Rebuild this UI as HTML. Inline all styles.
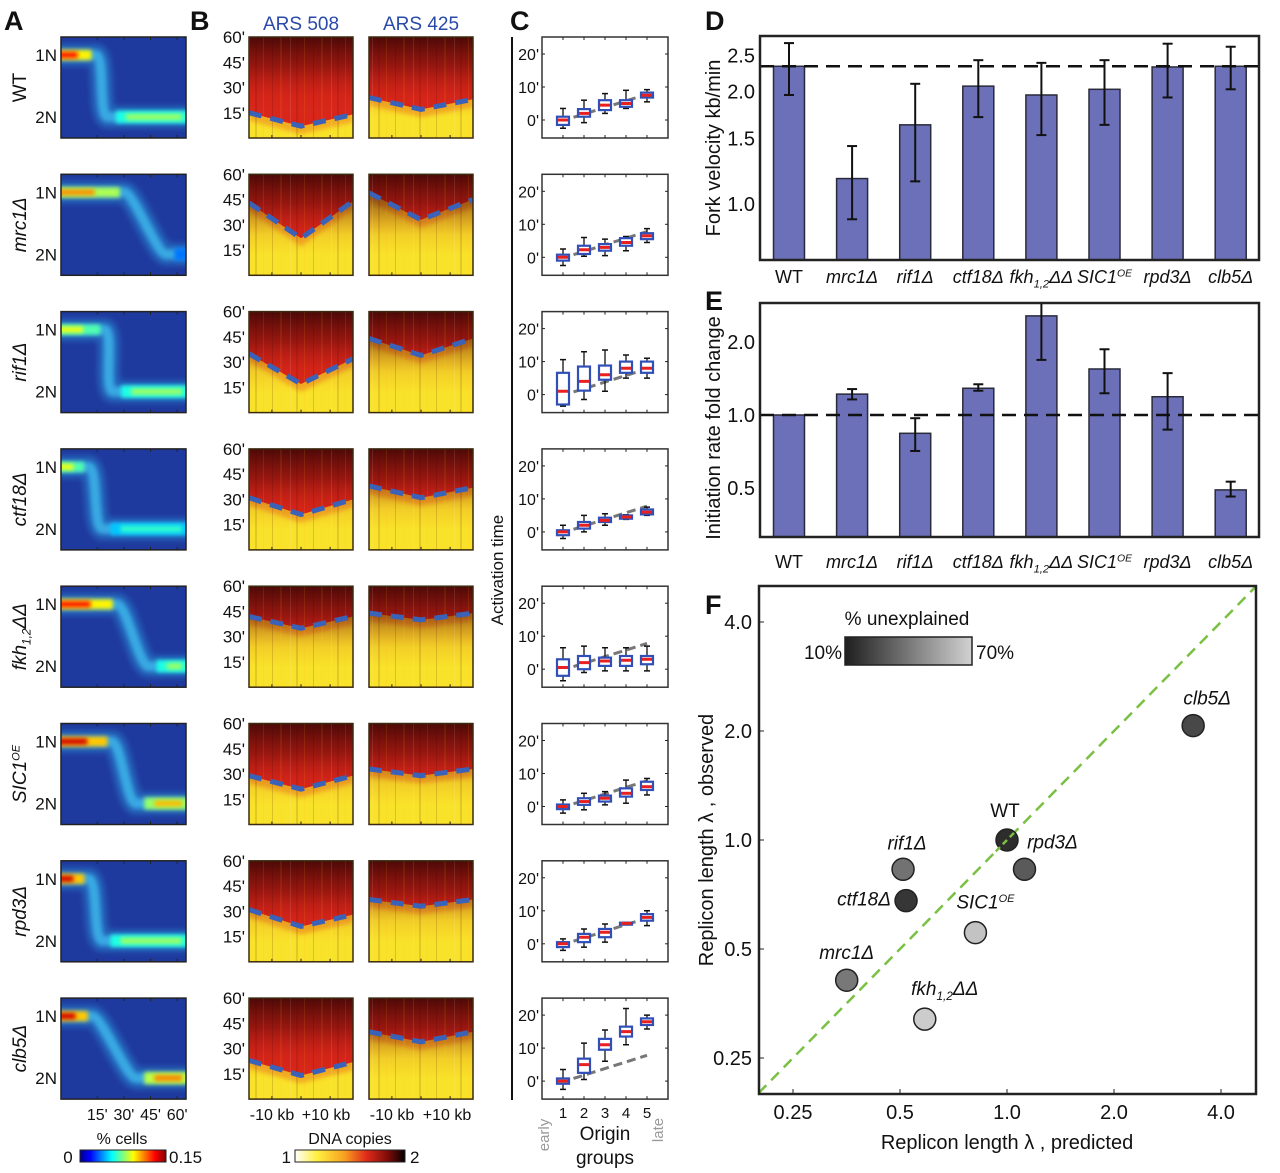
<!DOCTYPE html>
<html><head><meta charset="utf-8">
<style>
html,body{margin:0;padding:0;background:#fff;}
svg{display:block;font-family:"Liberation Sans",Arial,sans-serif;}
</style></head>
<body>
<svg id="fig" width="1280" height="1173" viewBox="0 0 1280 1173" xmlns="http://www.w3.org/2000/svg">
<defs>
<filter id="blur3" filterUnits="userSpaceOnUse" x="0" y="0" width="1280" height="1173"><feGaussianBlur stdDeviation="3"/></filter>
<filter id="blur2" filterUnits="userSpaceOnUse" x="0" y="0" width="1280" height="1173"><feGaussianBlur stdDeviation="2"/></filter>
<linearGradient id="jetGrad" x1="0" x2="1" y1="0" y2="0">
<stop offset="0" stop-color="#00008f"/><stop offset="0.12" stop-color="#0000ff"/><stop offset="0.37" stop-color="#00ffff"/><stop offset="0.5" stop-color="#80ff80"/><stop offset="0.62" stop-color="#ffff00"/><stop offset="0.87" stop-color="#ff0000"/><stop offset="1" stop-color="#800000"/>
</linearGradient>
<linearGradient id="hotGrad" x1="0" x2="1" y1="0" y2="0">
<stop offset="0" stop-color="#ffffff"/><stop offset="0.2" stop-color="#fff040"/><stop offset="0.45" stop-color="#f8a020"/><stop offset="0.65" stop-color="#e02a18"/><stop offset="0.85" stop-color="#7a0c08"/><stop offset="1" stop-color="#000000"/>
</linearGradient>
<linearGradient id="greyGrad" x1="0" x2="1" y1="0" y2="0">
<stop offset="0" stop-color="#1e1e1e"/><stop offset="1" stop-color="#d2d2d2"/>
</linearGradient>
<linearGradient id="darkTop" x1="0" x2="0" y1="0" y2="1">
<stop offset="0" stop-color="#2a0202" stop-opacity="0.8"/><stop offset="0.3" stop-color="#5a0806" stop-opacity="0.5"/><stop offset="0.6" stop-color="#b01810" stop-opacity="0.1"/><stop offset="0.8" stop-color="#d42010" stop-opacity="0"/>
</linearGradient>
<pattern id="streaks" width="41" height="10" patternUnits="userSpaceOnUse">
<rect x="3" y="0" width="1" height="10" fill="#ffffff" opacity="0.1"/>
<rect x="9" y="0" width="2" height="10" fill="#400000" opacity="0.12"/>
<rect x="17" y="0" width="1" height="10" fill="#ffb000" opacity="0.12"/>
<rect x="26" y="0" width="1" height="10" fill="#300000" opacity="0.15"/>
<rect x="34" y="0" width="2" height="10" fill="#ffd000" opacity="0.08"/>
</pattern>
</defs>
</svg>
<script>
// ---------- DATA ----------
const strains = ['WT','mrc1','rif1','ctf18','fkh','SIC1','rpd3','clb5'];
// Panel A: 1N phase end and 2N phase start (minutes), peak intensities (% cells, 0-0.15)
const a1End   = [14, 30, 19, 10, 26, 23, 10, 12];
const a2Start = [21, 54, 24, 18, 44, 37, 18, 37];
const a1Peak  = [0.14, 0.12, 0.10, 0.10, 0.14, 0.15, 0.15, 0.15];
const a2Peak  = [0.10, 0.06, 0.10, 0.08, 0.10, 0.13, 0.10, 0.14];
// Panel B: activation time profile (minutes) at left edge, origin, right edge
const b508Left   = [15, 43, 35, 31, 42, 29, 31, 23];
const b508Center = [7, 22, 17, 21, 35, 21, 21, 14];
const b508Right  = [14, 44, 32, 30, 42, 29, 28, 22];
const b425Left   = [24, 49, 44, 38, 44, 33, 37, 40];
const b425Center = [17, 33, 34, 31, 40, 29, 33, 34];
const b425Right  = [23, 45, 44, 37, 44, 33, 37, 40];
// Panel C: boxplot stats per strain per origin group (minutes)
const cMed = [[0,2,4.5,5,7.5],[0,2.3,3,4.5,6.5],[1,4,6,8,8],[0,2,3.5,4.5,6],[0.5,2,2.5,2.7,3],[0,1.5,2.5,4,6],[0,2,3.5,6.2,8],[0,5,11,15,18]];
const cQ1  = [[-1.5,1,3,4,6.8],[-1,1,2,3.5,5.5],[-3,1.2,4.5,6.6,6.6],[-1,1,3,4,5.3],[-2,0,1,1,1.5],[-0.8,0.5,1.5,3,5],[-1,0.5,2,6,7],[-0.8,2.5,9.5,13.5,17]];
const cQ3  = [[1,3.3,6,6,8.3],[0.8,3.5,4,5.8,7.3],[6.6,8.5,8.8,10,10],[0.5,3,4.3,5,6.8],[3,4,3.5,4,4],[0.6,2.5,3.3,5.5,7.5],[0.5,3,4.5,6.4,9],[0.8,6.8,12.8,16.5,19]];
const cLo  = [[-2.5,-0.8,2,3.5,5.5],[-2.5,0.3,0.5,2,4.5],[-3.5,-1.5,1,5,5],[-2,0,2,3.8,5],[-3.5,-1,-0.5,-0.5,-0.5],[-2,-1,0.5,1,3.5],[-2,-1,0.5,5.8,5.5],[-2.5,0.5,6,11,15.8]];
const cHi  = [[3.5,6,8,9,9.2],[2.5,6,5.5,6.3,8.7],[10.6,13,13.5,12,11],[2,5,5.5,5.2,7.5],[6.5,7,6.5,6.5,7],[2,4,4.5,8,8.5],[1.5,4.5,6,6.5,10],[3.5,11.5,15.5,22,20]];
const cTrendGroups = [1.5, 5];
const cTrendVals   = [0.8, 7.8];
// Panel D: fork velocity (kb/min)
const dVal  = [2.34, 1.17, 1.63, 2.07, 1.96, 2.03, 2.33, 2.34];
const dLo   = [1.96, 0.91, 1.15, 1.71, 1.53, 1.63, 1.93, 2.03];
const dHi   = [2.70, 1.43, 2.10, 2.43, 2.39, 2.43, 2.69, 2.64];
const dRef  = 2.34;
const dTicks = [1.0, 1.5, 2.0, 2.5];
// Panel E: initiation rate fold change
const eVal  = [1.0, 1.22, 0.84, 1.29, 2.57, 1.55, 1.19, 0.49];
const eLo   = [1.0, 1.16, 0.71, 1.26, 1.69, 1.23, 0.87, 0.46];
const eHi   = [1.0, 1.28, 0.97, 1.34, 2.95, 1.87, 1.49, 0.53];
const eRef  = 1.0;
const eTicks = [0.5, 1.0, 2.0];
// Panel F: replicon length predicted vs observed, % unexplained
const fPred = [1.0, 0.354, 0.51, 0.52, 0.587, 0.815, 1.12, 3.34];
const fObs  = [1.0, 0.41, 0.83, 0.68, 0.32, 0.555, 0.83, 2.07];
const fUnexp= [15, 40, 38, 18, 68, 65, 30, 24];
const fTicks = [0.25, 0.5, 1.0, 2.0, 4.0];
const fTickLabels = ['0.25','0.5','1.0','2.0','4.0'];

// ---------- HELPERS ----------
const NS='http://www.w3.org/2000/svg';
const svg=document.getElementById('fig');
function mk(tag,parent){const e=document.createElementNS(NS,tag);(parent||svg).appendChild(e);return e;}
function sa(e,o){for(const k in o)e.setAttribute(k,o[k]);return e;}
function txt(str,x,y,size,anchor,parent){const t=mk('text',parent);sa(t,{x:x,y:y,'font-size':size,'text-anchor':anchor||'start',fill:'#111'});t.textContent=str;return t;}
function strainText(i,x,y,size,anchor,parent,rot){
  const t=mk('text',parent);
  sa(t,{x:x,y:y,'font-size':size,'text-anchor':anchor||'middle',fill:'#111'});
  if(rot)t.setAttribute('transform','rotate(-90 '+x+' '+y+')');
  const s=strains[i];
  if(s==='WT'){t.textContent='WT';return t;}
  t.setAttribute('font-style','italic');
  const add=(str,o)=>{const ts=mk('tspan',t);if(o)sa(ts,o);ts.textContent=str;};
  if(s==='fkh'){add('fkh');add('1,2',{dy:size*0.25,'font-size':size*0.62});add('ΔΔ',{dy:-size*0.25});}
  else if(s==='SIC1'){add('SIC1');add('OE',{dy:-size*0.35,'font-size':size*0.58});add('\u200b',{dy:size*0.35});}
  else{add(s+'Δ');}
  return t;
}
function jet(v){const c=x=>Math.round(255*Math.max(0,Math.min(1,x)));return 'rgb('+c(1.5-Math.abs(4*v-3))+','+c(1.5-Math.abs(4*v-2))+','+c(1.5-Math.abs(4*v-1))+')';}
const rowTop=k=>37+137.3*k;
const rowH=101;

// Panel letters
[['A',4,30],['B',190,30],['C',510,30],['D',705,30],['E',705,310],['F',705,614]].forEach(p=>{
  const t=txt(p[0],p[1],p[2],27,'start');t.setAttribute('font-weight','bold');
  
  
});

// ---------- PANEL A ----------
const AX0=61,AX1=186;
const aX=t=>AX0+(AX1-AX0)*(0.077+0.0142*t);
strains.forEach((s,k)=>{
  const top=rowTop(k);
  const g=mk('g');
  
  
  const cp=mk('clipPath',g);cp.id='clipA'+k;
  sa(mk('rect',cp),{x:AX0,y:top,width:AX1-AX0,height:rowH});
  sa(mk('rect',g),{x:AX0,y:top,width:AX1-AX0,height:rowH,fill:'#1f3a9e'});
  const inner=mk('g',g);inner.setAttribute('clip-path','url(#clipA'+k+')');
  const y1=top+18,y2=top+80;
  const x1=aX(a1End[k]),x2=aX(a2Start[k]);
  const path='M'+(AX0-10)+' '+y1+' L'+x1+' '+y1+' C'+(x1+10)+' '+y1+' '+(x2-10)+' '+y2+' '+x2+' '+y2+' L'+(AX1+10)+' '+y2;
  sa(mk('path',inner),{d:path,fill:'none',stroke:'#2a90d8','stroke-width':22,opacity:0.5,filter:'url(#blur3)'});
  sa(mk('path',inner),{d:path,fill:'none',stroke:'#40c0f0','stroke-width':10,opacity:0.75,filter:'url(#blur2)'});
  sa(mk('rect',inner),{x:AX0-4,y:y1-5,width:x1-AX0,height:10,fill:jet(a1Peak[k]/0.15*0.68),filter:'url(#blur2)'});
  sa(mk('rect',inner),{x:AX0-4,y:y1-3,width:(x1-AX0)*0.6,height:6,fill:jet(a1Peak[k]/0.15*0.92),filter:'url(#blur2)'});
  sa(mk('rect',inner),{x:x2+8,y:y2-6,width:AX1-x2,height:12,fill:jet(a2Peak[k]/0.15*0.6),filter:'url(#blur2)'});
  sa(mk('rect',inner),{x:x2+18,y:y2-3,width:Math.max(0,AX1-x2-22),height:6,fill:jet(a2Peak[k]/0.15*0.8),filter:'url(#blur2)'});
  sa(mk('rect',g),{x:AX0,y:top,width:AX1-AX0,height:rowH,fill:'none',stroke:'#222','stroke-width':1.5});
  [15,30,45,60].forEach(t=>{sa(mk('line',g),{x1:aX(t),y1:top+rowH,x2:aX(t),y2:top+rowH-3,stroke:'#222'});sa(mk('line',g),{x1:aX(t),y1:top,x2:aX(t),y2:top+3,stroke:'#222'});});
  const l1=txt('1N',57,top+24,17,'end');
  const l2=txt('2N',57,top+86,17,'end');
  const sl=strainText(k,26,top+rowH/2,19,'middle',svg,true);
  
  
});
[["15'",15],["30'",30],["45'",45],["60'",60]].forEach(p=>{const t=txt(p[0],aX(p[1]),1120,16,'middle');});
{
 const r=mk('rect');sa(r,{x:80,y:1150,width:86,height:12,fill:'url(#jetGrad)',stroke:'#222'});
 
 txt('% cells',122,1144,16,'middle');txt('0',68,1163,17,'middle');txt('0.15',169,1163,17,'start');
}

// ---------- PANEL B ----------
const bBoxes=[[249,353,b508Left,b508Center,b508Right,'ars508'],[369,473,b425Left,b425Center,b425Right,'ars425']];
const t1=txt('ARS 508',301,30,19,'middle');t1.setAttribute('fill','#2a4aa8');
const t2=txt('ARS 425',421,30,19,'middle');t2.setAttribute('fill','#2a4aa8');
strains.forEach((s,k)=>{
  const top=rowTop(k);
  const bY=t=>top+(60-t)*rowH/60;
  bBoxes.forEach(b=>{
    const [x0,x1,L,C,R,nm]=b;const xm=(x0+x1)/2;
    const g=mk('g');
    
    
    const cp=mk('clipPath',g);cp.id='clipB'+nm+k;
    sa(mk('rect',cp),{x:x0,y:top,width:x1-x0,height:rowH});
    const inner=mk('g',g);inner.setAttribute('clip-path','url(#clipB'+nm+k+')');
    sa(mk('rect',inner),{x:x0,y:top,width:x1-x0,height:rowH,fill:'#f9e22a'});
    sa(mk('polygon',inner),{points:x0+','+top+' '+x1+','+top+' '+x1+','+(bY(R[k])+8)+' '+xm+','+(bY(C[k])+8)+' '+x0+','+(bY(L[k])+8),fill:'#f0a020',opacity:0.8,filter:'url(#blur2)'});
    sa(mk('polygon',inner),{points:x0+','+top+' '+x1+','+top+' '+x1+','+bY(R[k])+' '+xm+','+bY(C[k])+' '+x0+','+bY(L[k]),fill:'#d8261a'});
    sa(mk('rect',inner),{x:x0,y:top,width:x1-x0,height:rowH,fill:'url(#darkTop)'});
    sa(mk('rect',inner),{x:x0,y:top,width:x1-x0,height:rowH,fill:'url(#streaks)'});
    const dl=mk('polyline',inner);
    sa(dl,{points:x0+','+bY(L[k])+' '+xm+','+bY(C[k])+' '+x1+','+bY(R[k]),fill:'none',stroke:'#3a62b8','stroke-width':5,'stroke-dasharray':'13 9'});
    
    
    sa(mk('rect',g),{x:x0,y:top,width:x1-x0,height:rowH,fill:'none',stroke:'#3a2a10','stroke-width':1.5});
    [0.22,0.5,0.78].forEach(f=>sa(mk('line',g),{x1:x0+(x1-x0)*f,y1:top+rowH,x2:x0+(x1-x0)*f,y2:top+rowH-3,stroke:'#222'}));
  });
  [["60'",60],["45'",45],["30'",30],["15'",15]].forEach(p=>{const t=txt(p[0],245,bY(p[1])+6,17,'end');});
});
[['-10 kb',272],['+10 kb',326],['-10 kb',392],['+10 kb',447]].forEach(p=>{const t=txt(p[0],p[1],1120,16,'middle');});
{
 const r=mk('rect');sa(r,{x:295,y:1150,width:110,height:12,fill:'url(#hotGrad)',stroke:'#222'});
 
 txt('DNA copies',350,1144,16,'middle');txt('1',291,1163,17,'end');txt('2',410,1163,17,'start');
}

// ---------- PANEL C ----------
{
 const vl=mk('line');sa(vl,{x1:512,y1:37,x2:512,y2:1100,stroke:'#111','stroke-width':2});
 
 const at=txt('Activation time',503,570,17,'middle');at.setAttribute('transform','rotate(-90 503 570)');
 
}
const CX0=542,CX1=668;
const cX=gp=>CX0+21+(gp-1)*21;
strains.forEach((s,k)=>{
  const top=rowTop(k);
  const cY=t=>top+83-3.3*t;
  const g=mk('g');
  
  
  const cp=mk('clipPath',g);cp.id='clipC'+k;
  sa(mk('rect',cp),{x:CX0,y:top,width:CX1-CX0,height:rowH});
  sa(mk('rect',g),{x:CX0,y:top,width:CX1-CX0,height:rowH,fill:'#fff',stroke:'#333','stroke-width':1.5});
  const inner=mk('g',g);inner.setAttribute('clip-path','url(#clipC'+k+')');
  for(let i=1;i<=5;i++){sa(mk('line',g),{x1:cX(i),y1:top,x2:cX(i),y2:top+3,stroke:'#222'});sa(mk('line',g),{x1:cX(i),y1:top+rowH,x2:cX(i),y2:top+rowH-3,stroke:'#222'});}
  [0,10,20].forEach(t=>{sa(mk('line',g),{x1:CX0,y1:cY(t),x2:CX0+3,y2:cY(t),stroke:'#222'});sa(mk('line',g),{x1:CX1,y1:cY(t),x2:CX1-3,y2:cY(t),stroke:'#222'});
    const tl=txt(t+"'",539,cY(t)+6,16,'end');});
  const tr=mk('line',inner);
  sa(tr,{x1:cX(cTrendGroups[0]),y1:cY(cTrendVals[0]),x2:cX(cTrendGroups[1]),y2:cY(cTrendVals[1]),stroke:'#777','stroke-width':3,'stroke-dasharray':'9 5'});
  
  
  for(let i=0;i<5;i++){
    const x=cX(i+1);
    const bx=mk('g',inner);
    
    
    sa(mk('line',bx),{x1:x,y1:cY(cHi[k][i]),x2:x,y2:cY(cLo[k][i]),stroke:'#111','stroke-width':1.3});
    sa(mk('line',bx),{x1:x-3,y1:cY(cHi[k][i]),x2:x+3,y2:cY(cHi[k][i]),stroke:'#111','stroke-width':1.5});
    sa(mk('line',bx),{x1:x-3,y1:cY(cLo[k][i]),x2:x+3,y2:cY(cLo[k][i]),stroke:'#111','stroke-width':1.5});
    sa(mk('rect',bx),{x:x-6,y:cY(cQ3[k][i]),width:12,height:Math.max(2,cY(cQ1[k][i])-cY(cQ3[k][i])),fill:'#fff',stroke:'#3050b8','stroke-width':2.2});
    sa(mk('line',bx),{x1:x-5,y1:cY(cMed[k][i]),x2:x+5,y2:cY(cMed[k][i]),stroke:'#e82020','stroke-width':3});
  }
});
for(let i=1;i<=5;i++){const t=txt(String(i),cX(i),1118,15,'middle');}
{
 const o1=txt('Origin',605,1140,19,'middle');
 txt('groups',605,1164,19,'middle');
 const e=txt('early',549,1135,15,'middle');e.setAttribute('fill','#999');e.setAttribute('transform','rotate(-90 549 1135)');
 
 const l=txt('late',663,1130,15,'middle');l.setAttribute('fill','#999');l.setAttribute('transform','rotate(-90 663 1130)');
 
}

// ---------- PANEL D & E ----------
const barX=i=>789+63.1*i;
function barPanel(opts){
  const {vals,lo,hi,ref,ticks,yf,top,bottom,label,labelY,xLabY,nm}=opts;
  const g=mk('g');
  
  
  const cp=mk('clipPath',g);cp.id='clip'+nm;
  sa(mk('rect',cp),{x:760,y:top,width:499,height:bottom-top});
  const inner=mk('g',g);inner.setAttribute('clip-path','url(#clip'+nm+')');
  vals.forEach((v,i)=>{
    const b=mk('rect',inner);
    sa(b,{x:barX(i)-15.5,y:yf(v),width:31,height:bottom-yf(v),fill:'#6b70b8',stroke:'#2a2a3a','stroke-width':1.5});
    
    
  });
  const rl=mk('line',inner);
  sa(rl,{x1:760,y1:yf(ref),x2:1259,y2:yf(ref),stroke:'#111','stroke-width':2.5,'stroke-dasharray':'14 8'});
  
  
  vals.forEach((v,i)=>{
    if(hi[i]-lo[i]<0.005)return;
    const x=barX(i);
    const eb=mk('g',inner);
    
    
    sa(mk('line',eb),{x1:x,y1:yf(hi[i]),x2:x,y2:yf(lo[i]),stroke:'#111','stroke-width':2});
    sa(mk('line',eb),{x1:x-5,y1:yf(hi[i]),x2:x+5,y2:yf(hi[i]),stroke:'#111','stroke-width':2});
    sa(mk('line',eb),{x1:x-5,y1:yf(lo[i]),x2:x+5,y2:yf(lo[i]),stroke:'#111','stroke-width':2});
  });
  sa(mk('rect',g),{x:760,y:top,width:499,height:bottom-top,fill:'none',stroke:'#222','stroke-width':2.5});
  ticks.forEach(t=>{
    const tl=txt(t.toFixed(1),755,yf(t)+7,20,'end',g);
    
    
  });
  strains.forEach((s,i)=>{
    const xl=strainText(i,barX(i),xLabY,18,'middle',g,false);
    
    
  });
  const yl=txt(label,720,labelY,20,'middle',g);
  yl.setAttribute('transform','rotate(-90 720 '+labelY+')');
  
  
}
barPanel({vals:dVal,lo:dLo,hi:dHi,ref:dRef,ticks:dTicks,yf:v=>204-162*Math.log(v),top:36,bottom:260,label:'Fork velocity kb/min',labelY:148,xLabY:283,nm:'fork-velocity-chart'});
barPanel({vals:eVal,lo:eLo,hi:eHi,ref:eRef,ticks:eTicks,yf:v=>415-105*Math.log(v),top:303,bottom:537,label:'Initiation rate fold change',labelY:428,xLabY:568,nm:'initiation-rate-chart'});

// ---------- PANEL F ----------
{
 const xF=v=>1007+107*Math.log2(v);
 const yF=v=>840-109*Math.log2(v);
 const g=mk('g');
 
 
 const cp=mk('clipPath',g);cp.id='clipF';
 sa(mk('rect',cp),{x:759,y:586,width:497,height:508});
 const inner=mk('g',g);inner.setAttribute('clip-path','url(#clipF)');
 const dg=mk('line',inner);
 sa(dg,{x1:xF(0.2),y1:yF(0.2),x2:xF(5.1),y2:yF(5.1),stroke:'#7ac043','stroke-width':2.5,'stroke-dasharray':'11 7'});
 
 
 const offs=[[-2,-23],[0,-21],[4,-20],[-42,5],[20,-24],[10,-24],[28,-21],[14,-21]];
 fPred.forEach((p,i)=>{
   const f=(fUnexp[i]-10)/60;
   const c=Math.round(30+f*180);
   const pt=mk('circle',inner);
   sa(pt,{cx:xF(p),cy:yF(fObs[i]),r:11,fill:'rgb('+c+','+c+','+c+')',stroke:'#222','stroke-width':1.5});
   
   
   const lb=strainText(i,xF(p)+offs[i][0],yF(fObs[i])+offs[i][1],19,'middle',g,false);
   
   
 });
 const dg2=mk('line',inner);
 sa(dg2,{x1:xF(0.93),y1:yF(0.93),x2:xF(1.07),y2:yF(1.07),stroke:'#7ac043','stroke-width':2.5,'stroke-dasharray':'6 4'});
 sa(mk('rect',g),{x:759,y:586,width:497,height:508,fill:'none',stroke:'#222','stroke-width':2.5});
 fTicks.forEach((t,i)=>{
   sa(mk('line',g),{x1:xF(t),y1:1094,x2:xF(t),y2:1089,stroke:'#222'});
   sa(mk('line',g),{x1:759,y1:yF(t),x2:764,y2:yF(t),stroke:'#222'});
   const xl=txt(fTickLabels[i],xF(t),1119,20,'middle',g);
   
   
   const yl=txt(fTickLabels[i],752,yF(t)+7,20,'end',g);
   
   
 });
 const xt=txt('Replicon length λ , predicted',1007,1149,20,'middle',g);
 
 
 const yt=txt('Replicon length λ , observed',713,840,20,'middle',g);
 yt.setAttribute('transform','rotate(-90 713 840)');
 
 
 const lg=mk('g',g);
 
 
 txt('% unexplained',907,625,19,'middle',lg);
 sa(mk('rect',lg),{x:845,y:637,width:127,height:28,fill:'url(#greyGrad)',stroke:'#222','stroke-width':1.5});
 txt('10%',842,659,19,'end',lg);
 txt('70%',976,659,19,'start',lg);
}
</script>
</body></html>
